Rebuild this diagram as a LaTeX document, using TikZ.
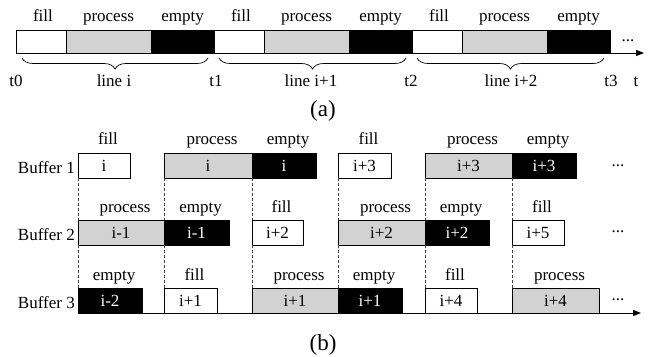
\documentclass[tikz,border=0pt]{standalone}
\usepackage{fontspec}
\setmainfont{Liberation Serif}
\usetikzlibrary{decorations.pathreplacing,arrows.meta}
\definecolor{procgray}{RGB}{210,210,210}
\begin{document}
\begin{tikzpicture}[x=1pt,y=-1pt,
  font=\fontsize{17}{20}\selectfont,
  seg/.style={draw=black, line width=0.7pt, inner sep=0pt, outer sep=0pt, anchor=north west},
  fillseg/.style={seg, fill=white},
  procseg/.style={seg, fill=procgray},
  emptyseg/.style={seg, fill=black, text=white},
  barA/.style={minimum height=23pt},
  rowB/.style={minimum height=25pt},
  lbl/.style={inner sep=0pt, anchor=base},
  axisline/.style={line width=0.9pt, -{Triangle[length=8pt,width=6pt]}},
  bracestyle/.style={line width=0.7pt, decorate, decoration={brace, mirror, amplitude=11pt}},
  guide/.style={line width=0.5pt, black!75, dash pattern=on 3pt off 2pt},
  capfont/.style={font=\fontsize{23}{26}\selectfont}
]
\useasboundingbox (0,0) rectangle (652,356);

% ---------------- (a) ----------------
\coordinate (axA1) at (644,53);
\node[fillseg,  barA, minimum width=50pt] (a1f) at (16,30) {};
\node[procseg,  barA, minimum width=85pt] (a1p) at (66,30) {};
\node[emptyseg, barA, minimum width=63pt] (a1e) at (151,30) {};
\node[fillseg,  barA, minimum width=50pt] (a2f) at (214,30) {};
\node[procseg,  barA, minimum width=85pt] (a2p) at (264,30) {};
\node[emptyseg, barA, minimum width=63pt] (a2e) at (349,30) {};
\node[fillseg,  barA, minimum width=50pt] (a3f) at (412,30) {};
\node[procseg,  barA, minimum width=85pt] (a3p) at (462,30) {};
\node[emptyseg, barA, minimum width=63pt] (a3e) at (547,30) {};
\draw[axisline] (a1f.south west) -- (axA1);

\foreach \k in {1,2,3}{
  \node[lbl] (la\k f) at ([xshift=2pt,yshift=9pt]a\k f.north) {fill};
  \node[lbl] (la\k p) at ([yshift=9pt]a\k p.north) {process};
  \node[lbl] (la\k e) at ([yshift=9pt]a\k e.north) {empty};
}
\node[lbl] (dotsA) at (628,41) {...};

\coordinate (br1s) at (22,58);  \coordinate (br1e) at (208,58);
\coordinate (br2s) at (219,58); \coordinate (br2e) at (406,58);
\coordinate (br3s) at (417,58); \coordinate (br3e) at (604,58);
\draw[bracestyle] (br1s) -- (br1e);
\draw[bracestyle] (br2s) -- (br2e);
\draw[bracestyle] (br3s) -- (br3e);
\node[lbl] (line1) at (114,86) {line i};
\node[lbl] (line2) at (311,86) {line i+1};
\node[lbl] (line3) at (511,86) {line i+2};
\node[lbl] (t0) at (16,86) {t0};
\node[lbl] (t1) at (216,86) {t1};
\node[lbl] (t2) at (411,86) {t2};
\node[lbl] (t3) at (611,86) {t3};
\node[lbl] (tt) at (636,86) {t};
\node[lbl, capfont] (capa) at (323,116) {(a)};

% ---------------- (b) ----------------
\node[lbl, anchor=base east] (buf1) at (75,173) {Buffer 1};
\node[lbl, anchor=base east] (buf2) at (75,240) {Buffer 2};
\node[lbl, anchor=base east] (buf3) at (75,308) {Buffer 3};

% row 1
\node[fillseg,  rowB, minimum width=52pt] (b1a) at (78,153)  {i};
\node[procseg,  rowB, minimum width=88pt] (b1b) at (164,153) {i};
\node[emptyseg, rowB, minimum width=64pt] (b1c) at (252,153) {i};
\node[fillseg,  rowB, minimum width=53pt] (b1d) at (338,153) {i+3};
\node[procseg,  rowB, minimum width=87pt] (b1e) at (425,153) {i+3};
\node[emptyseg, rowB, minimum width=64pt] (b1f) at (512,153) {i+3};
% row 2
\node[procseg,  rowB, minimum width=86pt] (b2a) at (78,220)  {i-1};
\node[emptyseg, rowB, minimum width=65pt] (b2b) at (164,220) {i-1};
\node[fillseg,  rowB, minimum width=51pt] (b2c) at (252,220) {i+2};
\node[procseg,  rowB, minimum width=87pt] (b2d) at (338,220) {i+2};
\node[emptyseg, rowB, minimum width=64pt] (b2e) at (425,220) {i+2};
\node[fillseg,  rowB, minimum width=52pt] (b2f) at (512,220) {i+5};
% row 3
\node[emptyseg, rowB, minimum width=64pt] (b3a) at (78,288)  {i-2};
\node[fillseg,  rowB, minimum width=53pt] (b3b) at (164,288) {i+1};
\node[procseg,  rowB, minimum width=86pt] (b3c) at (252,288) {i+1};
\node[emptyseg, rowB, minimum width=64pt] (b3d) at (338,288) {i+1};
\node[fillseg,  rowB, minimum width=52pt] (b3e) at (425,288) {i+4};
\node[procseg,  rowB, minimum width=87pt] (b3f) at (512,288) {i+4};

% labels above boxes
\node[lbl] (l1a) at ([xshift=4pt,yshift=9pt]b1a.north) {fill};
\node[lbl] (l1b) at ([xshift=4pt,yshift=9pt]b1b.north) {process};
\node[lbl] (l1c) at ([xshift=4pt,yshift=9pt]b1c.north) {empty};
\node[lbl] (l1d) at ([xshift=4pt,yshift=9pt]b1d.north) {fill};
\node[lbl] (l1e) at ([xshift=4pt,yshift=9pt]b1e.north) {process};
\node[lbl] (l1f) at ([xshift=4pt,yshift=9pt]b1f.north) {empty};
\node[lbl] (l2a) at ([xshift=4pt,yshift=8pt]b2a.north) {process};
\node[lbl] (l2b) at ([xshift=4pt,yshift=8pt]b2b.north) {empty};
\node[lbl] (l2c) at ([xshift=4pt,yshift=8pt]b2c.north) {fill};
\node[lbl] (l2d) at ([xshift=4pt,yshift=8pt]b2d.north) {process};
\node[lbl] (l2e) at ([xshift=4pt,yshift=8pt]b2e.north) {empty};
\node[lbl] (l2f) at ([xshift=4pt,yshift=8pt]b2f.north) {fill};
\node[lbl] (l3a) at ([xshift=4pt,yshift=8pt]b3a.north) {empty};
\node[lbl] (l3b) at ([xshift=4pt,yshift=8pt]b3b.north) {fill};
\node[lbl] (l3c) at ([xshift=4pt,yshift=8pt]b3c.north) {process};
\node[lbl] (l3d) at ([xshift=4pt,yshift=8pt]b3d.north) {empty};
\node[lbl] (l3e) at ([xshift=4pt,yshift=8pt]b3e.north) {fill};
\node[lbl] (l3f) at ([xshift=4pt,yshift=8pt]b3f.north) {process};

% dashed guides
\foreach \c in {a,b,c,d,e,f}{
  \draw[guide] (b1\c.south west) -- (b2\c.north west);
  \draw[guide] (b2\c.south west) -- (b3\c.north west);
}

% axis
\coordinate (axB1) at (641,313);
\draw[axisline] (b3a.south west) -- (axB1);

\node[lbl] (dotsB1) at (618,166) {...};
\node[lbl] (dotsB2) at (618,232) {...};
\node[lbl] (dotsB3) at (618,300) {...};
\node[lbl, capfont] (capb) at (323,350) {(b)};
\end{tikzpicture}
\end{document}
